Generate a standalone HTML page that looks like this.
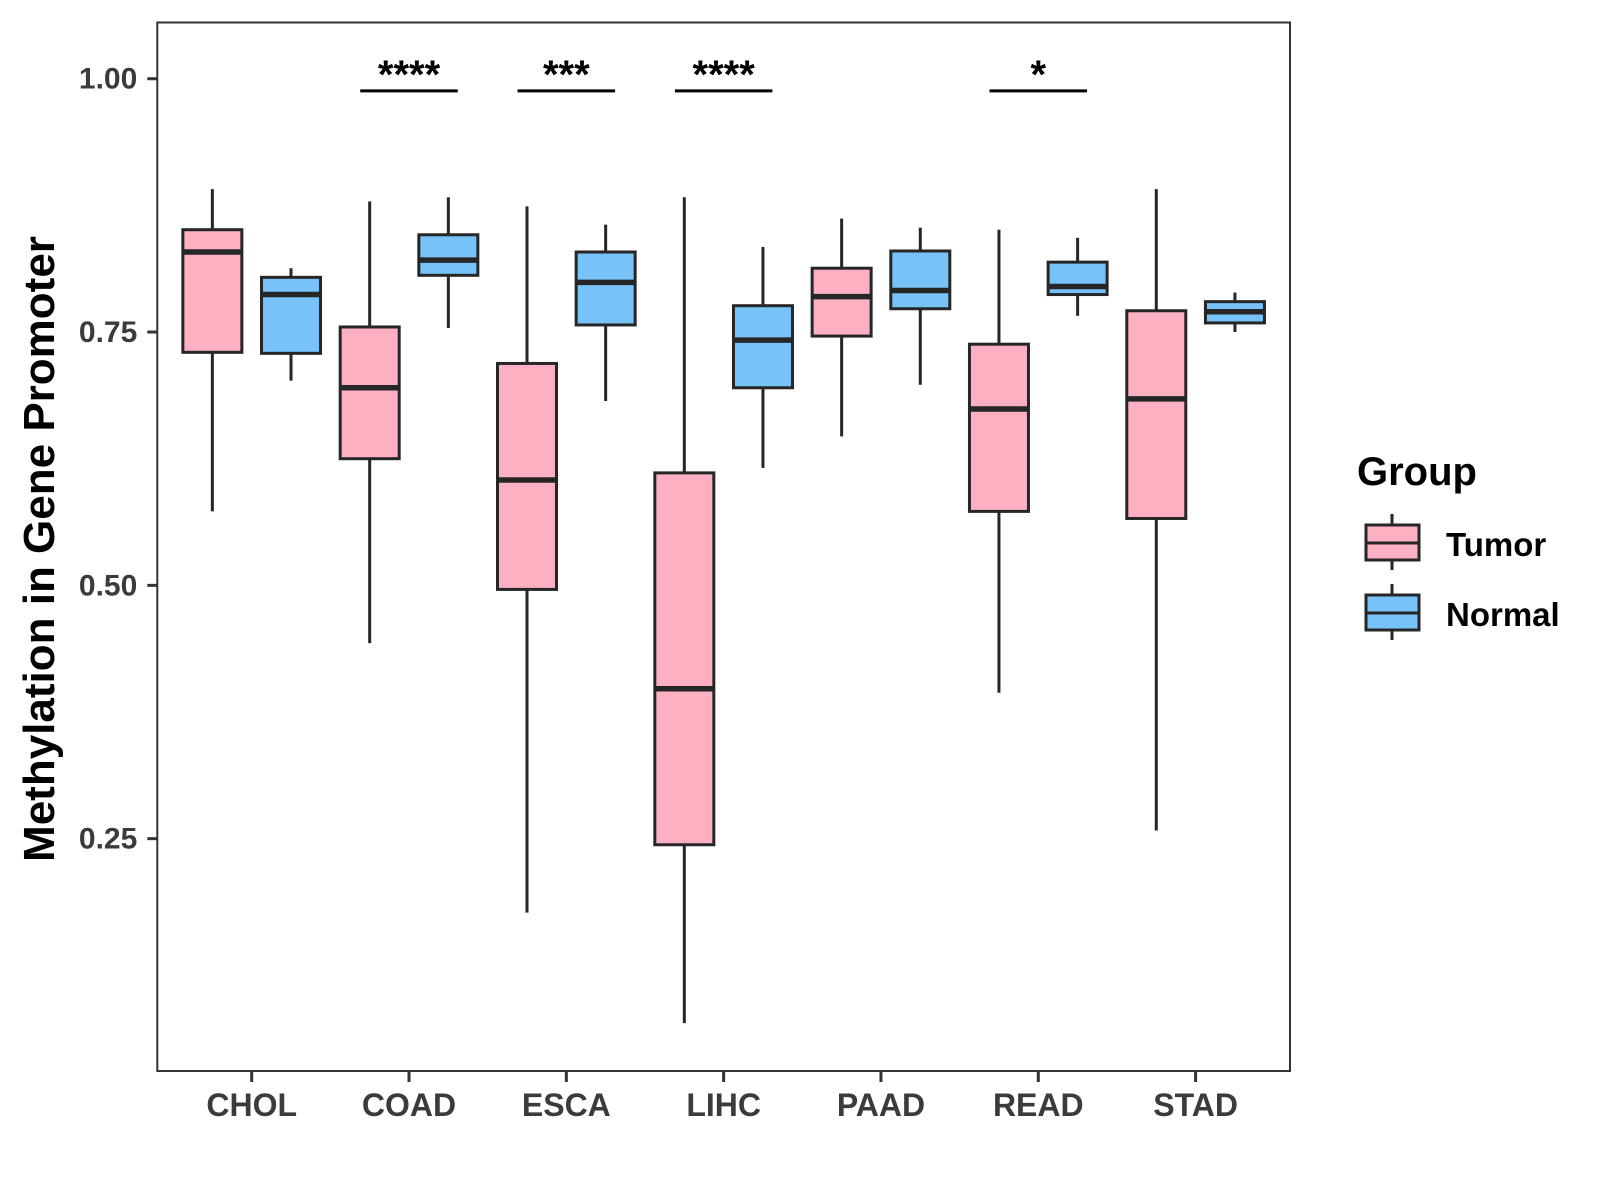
<!DOCTYPE html>
<html><head><meta charset="utf-8"><style>
html,body{margin:0;padding:0;background:#fff;}
svg{display:block;font-family:"Liberation Sans",Arial,sans-serif;}
</style></head><body>
<svg id="chart" width="1600" height="1200" viewBox="0 0 1600 1200">
<rect x="0" y="0" width="1600" height="1200" fill="#fff"/>
<g id="plot"></g>
<text x="0" y="0" transform="translate(54,549) rotate(-90)" text-anchor="middle" font-size="44" font-weight="bold" fill="#000">Methylation in Gene Promoter</text>
<g>
<text x="1357" y="485" font-size="40" font-weight="bold" fill="#000">Group</text>
<g>
<line x1="1392" y1="514" x2="1392" y2="570" stroke="#262626" stroke-width="3"/>
<rect x="1366" y="525" width="53" height="35" fill="#FDB0C1" stroke="#262626" stroke-width="3"/>
<line x1="1366" y1="543" x2="1419" y2="543" stroke="#262626" stroke-width="3"/>
<text x="1446" y="556" font-size="33" font-weight="bold" fill="#000">Tumor</text>
</g>
<g>
<line x1="1392" y1="584" x2="1392" y2="640" stroke="#262626" stroke-width="3"/>
<rect x="1366" y="595" width="53" height="35" fill="#77C2F9" stroke="#262626" stroke-width="3"/>
<line x1="1366" y1="613" x2="1419" y2="613" stroke="#262626" stroke-width="3"/>
<text x="1446" y="626" font-size="33" font-weight="bold" fill="#000">Normal</text>
</g>
</g>
</svg>
<script>
const categories = ["CHOL","COAD","ESCA","LIHC","PAAD","READ","STAD"];
const groups = ["Tumor","Normal"];
// [low, Q1, median, Q3, high]
const tumorStats = [
 [0.573,0.730,0.829,0.851,0.891],
 [0.443,0.625,0.695,0.755,0.879],
 [0.177,0.496,0.604,0.719,0.874],
 [0.068,0.244,0.398,0.611,0.883],
 [0.647,0.746,0.785,0.813,0.862],
 [0.394,0.573,0.674,0.738,0.851],
 [0.258,0.566,0.684,0.771,0.891]
];
const normalStats = [
 [0.702,0.729,0.787,0.804,0.813],
 [0.754,0.806,0.821,0.846,0.883],
 [0.682,0.757,0.799,0.829,0.856],
 [0.616,0.695,0.742,0.776,0.834],
 [0.698,0.773,0.791,0.830,0.853],
 [0.766,0.787,0.795,0.819,0.843],
 [0.750,0.759,0.770,0.780,0.789]
];
const yTicks = [0.25,0.50,0.75,1.00];
const yTickLabels = ["0.25","0.50","0.75","1.00"];
const sigCategories = ["COAD","ESCA","LIHC","READ"];
const sigLabels = ["****","***","****","*"];
const sigLevel = [0.988,0.988,0.988,0.988];

const L=157.3,R=1290,T=22.5,B=1071;
const yMin=0.0207,yMax=1.0555;
function ys(v){return B-(v-yMin)/(yMax-yMin)*(B-T);}
function xs(i){return L+(i+1-0.4)/7.2*(R-L);}
const unit=(R-L)/7.2;
const NS="http://www.w3.org/2000/svg";
const g=document.getElementById('plot');
function mk(tag,attrs,parent){const e=document.createElementNS(NS,tag);for(const k in attrs)e.setAttribute(k,attrs[k]);(parent||g).appendChild(e);return e;}

const border=mk('rect',{x:L,y:T,width:R-L,height:B-T,fill:'none',stroke:'#333',"stroke-width":2});



yTicks.forEach((v,i)=>{
 const y=ys(v);
 const t=mk('line',{x1:L-10,x2:L,y1:y,y2:y,stroke:'#333',"stroke-width":3});
 
 
 const tx=mk('text',{x:L-20,y:y+10,"text-anchor":"end","font-size":30,"font-weight":"bold",fill:"#3b3b3b"});
 tx.textContent=yTickLabels[i];
 
 
});
categories.forEach((c,i)=>{
 const x=xs(i);
 const t=mk('line',{x1:x,x2:x,y1:B,y2:B+11,stroke:'#333',"stroke-width":3});
 
 
 const tx=mk('text',{x:x,y:B+45,"text-anchor":"middle","font-size":32,"font-weight":"bold",fill:"#3b3b3b"});
 tx.textContent=c;
 
 
});

function drawBox(st,cx,fill,name){
 const bg=mk('g',{});
 
 
 const w=0.375*unit;
 mk('line',{x1:cx,x2:cx,y1:ys(st[4]),y2:ys(st[3]),stroke:'#262626',"stroke-width":3},bg);
 mk('line',{x1:cx,x2:cx,y1:ys(st[1]),y2:ys(st[0]),stroke:'#262626',"stroke-width":3},bg);
 mk('rect',{x:cx-w/2,y:ys(st[3]),width:w,height:ys(st[1])-ys(st[3]),fill:fill,stroke:'#262626',"stroke-width":3},bg);
 mk('line',{x1:cx-w/2,x2:cx+w/2,y1:ys(st[2]),y2:ys(st[2]),stroke:'#262626',"stroke-width":5.5},bg);
}
categories.forEach((c,i)=>{
 drawBox(tumorStats[i],xs(i)-0.25*unit,'#FDB0C1','box-tumor-'+c.toLowerCase());
 drawBox(normalStats[i],xs(i)+0.25*unit,'#77C2F9','box-normal-'+c.toLowerCase());
});

sigCategories.forEach((c,k)=>{
 const i=categories.indexOf(c);
 const x=xs(i),y=ys(sigLevel[k]);
 const ln=mk('line',{x1:x-0.31*unit,x2:x+0.31*unit,y1:y,y2:y,stroke:'#000',"stroke-width":3});
 
 
 const tx=mk('text',{x:x,y:y-3,"text-anchor":"middle","font-size":40,"font-weight":"bold",fill:"#000"});
 tx.textContent=sigLabels[k];
 
 
});
</script>
</body></html>
